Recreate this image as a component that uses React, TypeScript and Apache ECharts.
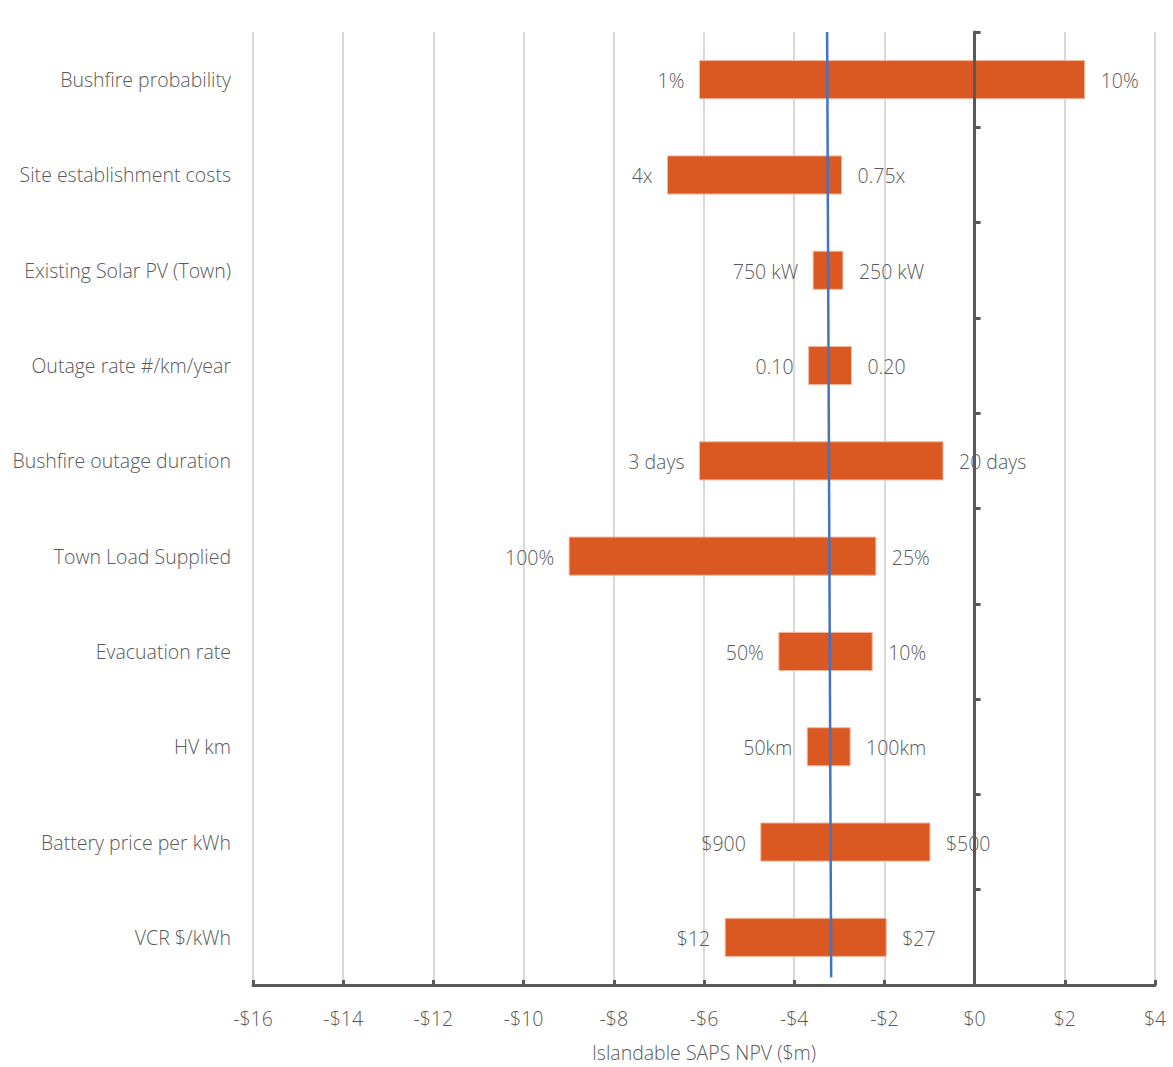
import React, { useEffect, useRef } from "react";
import * as echarts from "echarts";

// Drivers of the islandable SAPS NPV, top to bottom
const categories = [
  "Bushfire probability",
  "Site establishment costs",
  "Existing Solar PV (Town)",
  "Outage rate #/km/year",
  "Bushfire outage duration",
  "Town Load Supplied",
  "Evacuation rate",
  "HV km",
  "Battery price per kWh",
  "VCR $/kWh",
];

// NPV ($m) at each end of the sensitivity range
const lowNpv = [-6.1, -6.81, -3.58, -3.68, -6.1, -8.99, -4.34, -3.71, -4.74, -5.53];
const highNpv = [2.44, -2.95, -2.92, -2.73, -0.7, -2.19, -2.27, -2.76, -0.99, -1.96];

// Input value that produces each end
const lowLabels = ["1%", "4x", "750 kW", "0.10", "3 days", "100%", "50%", "50km", "$900", "$12"];
const highLabels = ["10%", "0.75x", "250 kW", "0.20", "20 days", "25%", "10%", "100km", "$500", "$27"];

// Base-case NPV reference line (top and bottom ends)
const npvLine = [
  [-3.27, 1],
  [-3.18, 0.008],
];
const npvLabel = "NPV: $-3.3m";

const xTicks = { min: -16, max: 4, interval: 2 };

const FONT = "'Open Sans', 'Noto Sans', sans-serif";
const TEXT = "#595959";
const BAR = "#DA5822";
const SIZE = 19.5;

export default function App() {
  const ref = useRef<HTMLDivElement>(null);

  useEffect(() => {
    if (!ref.current) return;
    const chart = echarts.init(ref.current, null, { renderer: "svg" });

    const rows = categories.map((c, i) => [i, lowNpv[i], highNpv[i], lowLabels[i], highLabels[i]]);

    const option: any = {
      animation: false,
      backgroundColor: "#ffffff",
      grid: { left: 253, right: 18, top: 32, bottom: 76, containLabel: false },
      xAxis: {
        type: "value",
        min: xTicks.min,
        max: xTicks.max,
        interval: xTicks.interval,
        name: "Islandable SAPS NPV ($m)",
        nameLocation: "middle",
        nameGap: 57,
        nameTextStyle: { color: TEXT, fontSize: SIZE, fontFamily: FONT, fontWeight: 300 },
        axisLine: { show: true, onZero: false, lineStyle: { color: "#595959", width: 3 } },
        axisTick: { show: true, inside: true, length: 5, lineStyle: { color: "#595959", width: 3 } },
        axisLabel: {
          color: TEXT,
          fontSize: SIZE,
          fontFamily: FONT,
          fontWeight: 300,
          margin: 23,
          formatter: (v: number) => (v < 0 ? "-$" + Math.abs(v) : "$" + v),
        },
        splitLine: { show: true, lineStyle: { color: "#D9D9D9", width: 2 } },
      },
      yAxis: [
        {
          type: "category",
          data: categories,
          inverse: true,
          axisLine: { show: false, onZero: false },
          axisTick: { show: false },
          axisLabel: { color: TEXT, fontSize: SIZE, fontFamily: FONT, fontWeight: 300, margin: 22 },
          splitLine: { show: false },
        },
        {
          type: "category",
          data: categories,
          inverse: true,
          position: "right",
          z: 10,
          axisLine: { show: true, onZero: true, lineStyle: { color: "#595959", width: 3 } },
          axisTick: { show: true, length: 6, lineStyle: { color: "#595959", width: 3 } },
          axisLabel: { show: false },
          splitLine: { show: false },
        },
        {
          type: "value",
          min: 0,
          max: 1,
          show: false,
          axisLine: { onZero: false },
          splitLine: { show: false },
        },
      ],
      series: [
        {
          type: "custom",
          yAxisIndex: 0,
          z: 2,
          encode: { x: [1, 2], y: 0 },
          data: rows,
          renderItem: (params: any, api: any) => {
            const cat = api.value(0);
            const lo = api.value(1);
            const hi = api.value(2);
            const i = params.dataIndex;
            const p0 = api.coord([lo, cat]);
            const p1 = api.coord([hi, cat]);
            const h = api.size([0, 1])[1] * 0.4;
            const textStyle = { fill: TEXT, fontSize: SIZE, fontFamily: FONT, fontWeight: 300, verticalAlign: "middle" };
            return {
              type: "group",
              children: [
                {
                  type: "rect",
                  shape: { x: p0[0], y: p0[1] - h / 2, width: p1[0] - p0[0], height: h },
                  style: { fill: BAR, stroke: "#F2B79C", lineWidth: 1 },
                },
                {
                  type: "text",
                  style: { ...textStyle, text: lowLabels[i], x: p0[0] - 15, y: p0[1] + 1, align: "right" },
                },
                {
                  type: "text",
                  style: { ...textStyle, text: highLabels[i], x: p1[0] + 16, y: p1[1] + 1, align: "left" },
                },
              ],
            };
          },
        },
        {
          type: "line",
          yAxisIndex: 2,
          z: 5,
          symbol: "none",
          lineStyle: { color: "#4472C4", width: 2.5 },
          data: [
            {
              value: npvLine[0],
              label: {
                show: true,
                position: "top",
                distance: 13,
                formatter: npvLabel,
                color: "#4472C4",
                fontSize: 11,
                fontFamily: FONT,
              },
            },
            { value: npvLine[1] },
          ],
        },
      ],
    };

    chart.setOption(option);
    return () => chart.dispose();
  }, []);

  return (
    <div
      ref={ref}
      style={{ position: "fixed", left: 0, top: 0, width: 1173, height: 1067, background: "#fff" }}
    />
  );
}
